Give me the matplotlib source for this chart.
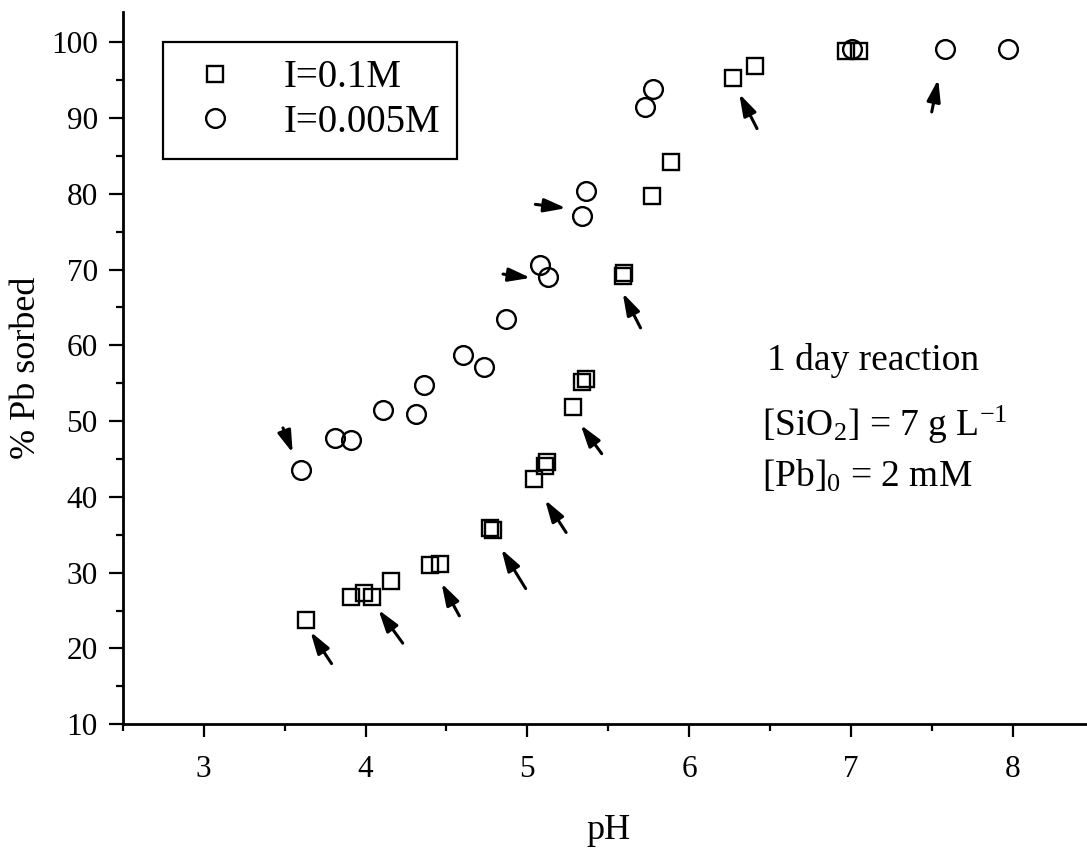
import matplotlib
matplotlib.use("Agg")
import matplotlib.pyplot as plt
from matplotlib.ticker import MultipleLocator

plt.rcParams['font.family'] = 'Liberation Serif'
plt.rcParams['mathtext.fontset'] = 'custom'
plt.rcParams['mathtext.rm'] = 'Liberation Serif'
plt.rcParams['mathtext.it'] = 'Liberation Serif:italic'

# I = 0.1 M (squares)
sq_ph = [3.63, 3.91, 3.99, 4.04, 4.16, 4.40, 4.46, 4.77, 4.79, 5.04, 5.11, 5.12,
         5.28, 5.34, 5.36, 5.59, 5.60, 5.77, 5.89, 6.27, 6.41, 6.97, 7.05]
sq_pb = [23.8, 26.8, 27.3, 26.8, 28.9, 31.0, 31.2, 35.9, 35.6, 42.4, 44.1, 44.6,
         51.9, 55.2, 55.6, 69.1, 69.5, 79.7, 84.2, 95.3, 96.9, 98.9, 98.9]

# I = 0.005 M (circles)
ci_ph = [3.60, 3.81, 3.91, 4.11, 4.31, 4.36, 4.60, 4.73, 4.87, 5.08, 5.13,
         5.34, 5.36, 5.73, 5.78, 7.01, 7.58, 7.97]
ci_pb = [43.6, 47.8, 47.5, 51.5, 51.0, 54.8, 58.7, 57.1, 63.5, 70.6, 69.0,
         77.1, 80.4, 91.5, 93.8, 99.1, 99.1, 99.1]

# arrows: (tail pH, tail %, tip pH, tip %)
arrows = [
    (3.79, 18.0, 3.66, 22.2),
    (4.23, 20.7, 4.08, 25.1),
    (4.58, 24.3, 4.47, 28.6),
    (4.99, 27.9, 4.84, 33.1),
    (5.24, 35.3, 5.11, 39.6),
    (5.46, 45.7, 5.33, 49.5),
    (3.49, 49.1, 3.55, 45.8),
    (5.70, 62.3, 5.59, 66.9),
    (4.85, 69.4, 5.02, 68.9),
    (5.05, 78.6, 5.24, 78.1),
    (6.42, 88.6, 6.31, 93.2),
    (7.50, 90.8, 7.54, 95.1),
]

fig = plt.figure(figsize=(10.87, 8.5), dpi=100)
ax = fig.add_axes([0.113, 0.148, 0.893, 0.838])

ax.plot(sq_ph, sq_pb, 's', ms=12, mfc='none', mec='black', mew=1.7, label='I=0.1M')
ax.plot(ci_ph, ci_pb, 'o', ms=13.5, mfc='none', mec='black', mew=1.7, label='I=0.005M')

for x0, y0, x1, y1 in arrows:
    ax.annotate('', xy=(x1, y1), xytext=(x0, y0),
                arrowprops=dict(arrowstyle='-|>,head_length=0.55,head_width=0.17',
                                lw=2.2, color='black', shrinkA=0, shrinkB=0,
                                mutation_scale=24))

ax.text(6.48, 56.8, '1 day reaction', fontsize=27, va='baseline')
ax.text(6.45, 48.0, r'[SiO$_2$] = 7 g L$^{-1}$', fontsize=27, va='baseline')
ax.text(6.45, 41.3, r'[Pb]$_0$ = 2 mM', fontsize=27, va='baseline')

ax.set_xlim(2.5, 8.5)
ax.set_ylim(10, 104)
ax.xaxis.set_major_locator(MultipleLocator(1))
ax.xaxis.set_minor_locator(MultipleLocator(0.5))
ax.yaxis.set_major_locator(MultipleLocator(10))
ax.yaxis.set_minor_locator(MultipleLocator(5))

for s in ['top', 'right']:
    ax.spines[s].set_visible(False)
for s in ['left', 'bottom']:
    ax.spines[s].set_linewidth(2)

ax.tick_params(axis='both', which='major', labelsize=22.5, width=1.6, direction='out')
ax.tick_params(axis='x', which='major', length=9, pad=13)
ax.tick_params(axis='y', which='major', length=10, pad=8)
ax.tick_params(axis='both', which='minor', length=5, width=1.6, direction='out')

ax.set_xlabel('pH', fontsize=26, labelpad=22)
ax.set_ylabel('% Pb sorbed', fontsize=26)
ax.yaxis.set_label_coords(-0.082, 0.5)

leg = ax.legend(loc='upper left', bbox_to_anchor=(0.041, 0.958), borderaxespad=0,
                fontsize=28, fancybox=False, edgecolor='black', framealpha=1,
                borderpad=0.45, handlelength=1.8, handletextpad=0.85,
                labelspacing=0.2, markerscale=1.0)
leg.get_frame().set_linewidth(1.6)

fig.savefig('out.png', dpi=100)
